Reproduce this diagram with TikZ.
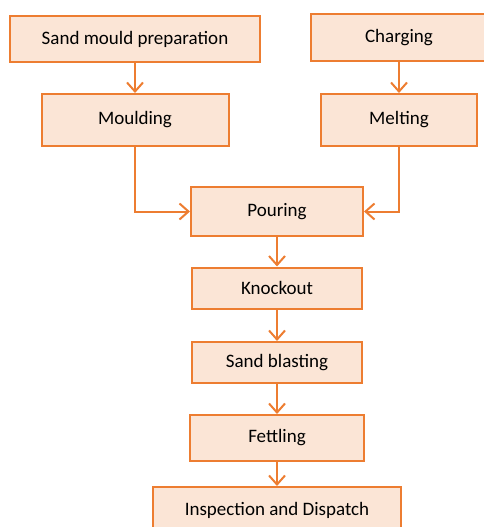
\documentclass[tikz,border=0pt]{standalone}
\usepackage{fontspec}
\setmainfont{Carlito}
\usetikzlibrary{arrows.meta}
\definecolor{boxline}{HTML}{ED7D31}
\definecolor{boxfill}{HTML}{FBE5D6}

\begin{document}
\begin{tikzpicture}[x=1pt,y=-1pt,
    box/.style={draw=boxline,fill=boxfill,line width=2pt,inner sep=0pt,
      font=\fontsize{19}{23}\selectfont},
    flow/.style={draw=boxline,line width=2pt,-{Straight Barb[length=9pt,width=16pt]}}]
      \useasboundingbox (0,0) rectangle (483,527);

      \node[box,minimum width=250,minimum height=46] (sand-prep)  at (135,39)    {Sand mould preparation};
      \node[box,minimum width=176,minimum height=47] (charging)   at (399,37.5)  {Charging};
      \node[box,minimum width=187,minimum height=52] (moulding)   at (135,120)   {Moulding};
      \node[box,minimum width=156,minimum height=52] (melting)    at (399,120)   {Melting};
      \node[box,minimum width=172,minimum height=49] (pouring)    at (277,211.5) {Pouring};
      \node[box,minimum width=170,minimum height=41] (knockout)   at (277,288)   {Knockout};
      \node[box,minimum width=170,minimum height=41] (blasting)   at (277,362.5) {Sand blasting};
      \node[box,minimum width=174,minimum height=46] (fettling)   at (277,438)   {Fettling};
      \node[box,minimum width=248,minimum height=46] (inspection) at (277,510)   {Inspection and Dispatch};

      \draw[flow] (sand-prep) -- (moulding);
      \draw[flow] (charging) -- (melting);
      \draw[flow] (moulding) |- (pouring);
      \draw[flow] (melting) |- (pouring);
      \draw[flow] (pouring) -- (knockout);
      \draw[flow] (knockout) -- (blasting);
      \draw[flow] (blasting) -- (fettling);
      \draw[flow] (fettling) -- (inspection);
    \end{tikzpicture}
\end{document}
